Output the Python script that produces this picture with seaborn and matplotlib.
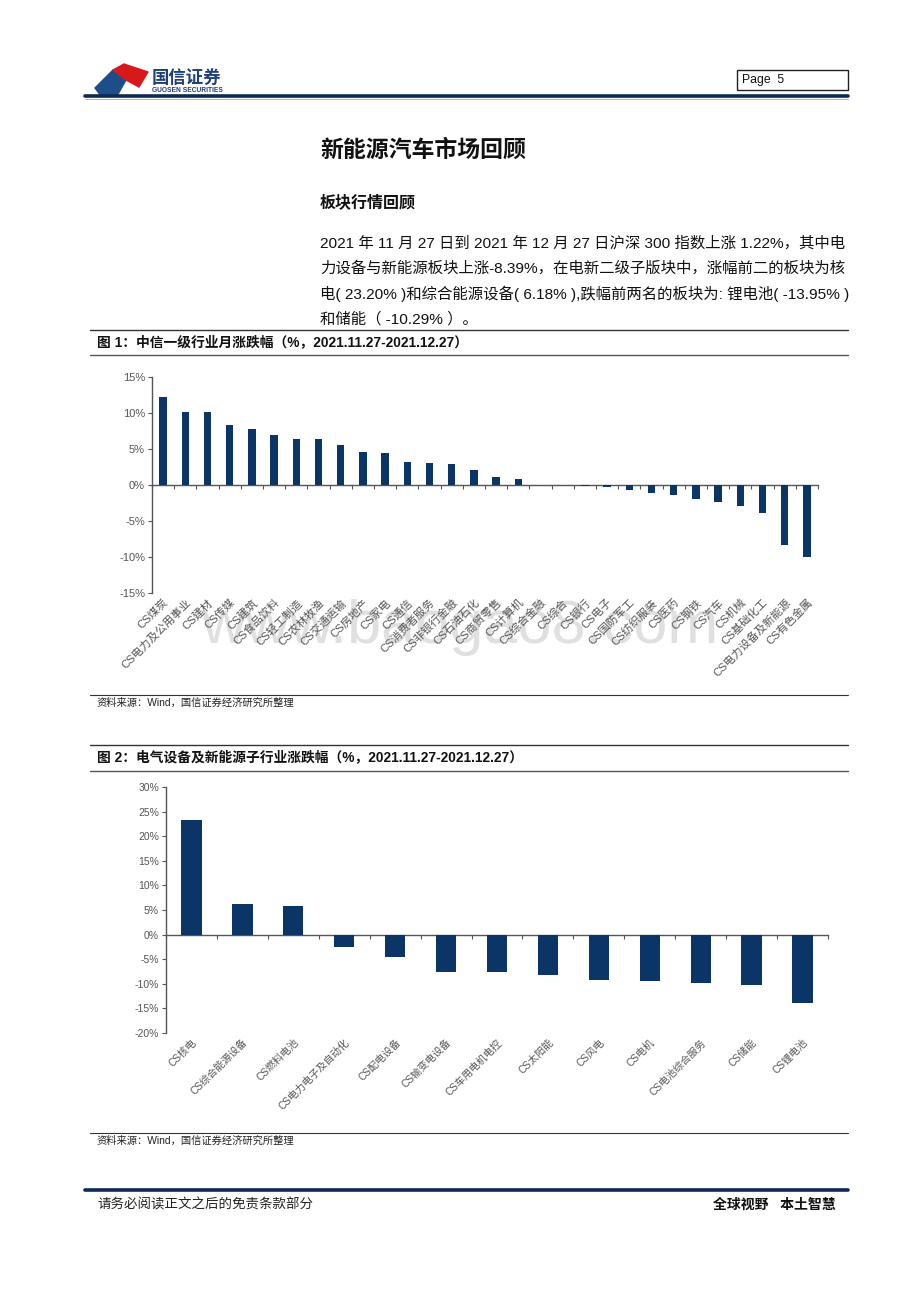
import numpy as np
import pandas as pd
import matplotlib
matplotlib.use('Agg')
import matplotlib.pyplot as plt
import seaborn as sns
from matplotlib.patches import Rectangle, Polygon
from matplotlib.lines import Line2D

sns.set_theme(style='white')
plt.rcParams['font.family'] = ['Liberation Sans', 'Noto Sans CJK SC', 'DejaVu Sans']

W, H = 920, 1302
NAVY = '#0b3566'
AX = '#555555'
TXT = '#555555'

# chart 1: CITIC level-1 industries, monthly change (%)
ind1 = ['CS煤炭', 'CS电力及公用事业', 'CS建材', 'CS传媒', 'CS建筑', 'CS食品饮料',
        'CS轻工制造', 'CS农林牧渔', 'CS交通运输', 'CS房地产', 'CS家电', 'CS通信',
        'CS消费者服务', 'CS非银行金融', 'CS石油石化', 'CS商贸零售', 'CS计算机',
        'CS综合金融', 'CS综合', 'CS银行', 'CS电子', 'CS国防军工', 'CS纺织服装',
        'CS医药', 'CS钢铁', 'CS汽车', 'CS机械', 'CS基础化工', 'CS电力设备及新能源',
        'CS有色金属']
chg1 = [12.2, 10.15, 10.1, 8.35, 7.75, 6.9, 6.35, 6.35, 5.6, 4.6, 4.4, 3.15,
        3.0, 2.9, 2.05, 1.15, 0.9, 0.02, 0.01, -0.08, -0.3, -0.7, -1.05,
        -1.4, -1.95, -2.3, -2.9, -3.95, -8.39, -9.95]

# chart 2: power equipment & new energy sub-industries (%)
ind2 = ['CS核电', 'CS综合能源设备', 'CS燃料电池', 'CS电力电子及自动化', 'CS配电设备',
        'CS输变电设备', 'CS车用电机电控', 'CS太阳能', 'CS风电', 'CS电机',
        'CS电池综合服务', 'CS储能', 'CS锂电池']
chg2 = [23.20, 6.18, 5.82, -2.44, -4.6, -7.65, -7.7, -8.26, -9.14, -9.34,
        -9.82, -10.29, -13.95]


def fx(p):
    return p / W


def fy(p):
    return 1 - p / H


fig = plt.figure(figsize=(W / 100, H / 100), dpi=100)


def hline(x0, x1, y, lw=1.0, color='#333333'):
    fig.add_artist(Line2D([fx(x0), fx(x1)], [fy(y), fy(y)], transform=fig.transFigure,
                          lw=lw, color=color))


def draw_bars(px, labels, values, ylim, step, width, lab_size, ytick_size):
    x0, y0, x1, y1 = px
    ax = fig.add_axes([fx(x0), fy(y1), fx(x1) - fx(x0), fy(y0) - fy(y1)])
    df = pd.DataFrame({'ind': labels, 'chg': values})
    sns.barplot(data=df, x='ind', y='chg', color=NAVY, width=width, saturation=1,
                edgecolor='none', ax=ax)
    n = len(labels)
    ax.set_xlim(-0.5, n - 0.5)
    ax.set_ylim(*ylim)
    ax.set_yticks(np.arange(ylim[0], ylim[1] + 0.1, step))
    ax.yaxis.set_major_formatter(lambda v, p: f'{v:.0f}%')
    for s in ['top', 'right', 'bottom']:
        ax.spines[s].set_visible(False)
    ax.spines['left'].set_color(AX)
    ax.spines['left'].set_linewidth(1.0)
    ax.tick_params(axis='y', direction='out', length=3, width=0.8, color=AX,
                   labelsize=ytick_size, labelcolor=TXT, pad=2, left=True)
    ax.tick_params(axis='x', length=0, pad=3)
    ax.set_xticks(range(n))
    ax.set_xticklabels(labels, rotation=45, ha='right', rotation_mode='anchor',
                       fontsize=lab_size, color=TXT)
    ax.set_xlabel('')
    ax.set_ylabel('')
    ax.patch.set_alpha(0)
    zero = (0 - ylim[0]) / (ylim[1] - ylim[0])
    sec = ax.secondary_xaxis(zero)
    sec.set_alignment('bottom')
    sec.set_xticks(np.arange(-0.5, n, 1))
    sec.set_xticklabels([])
    sec.tick_params(direction='out', length=3, width=0.8, color=AX)
    sec.spines['bottom'].set_color(AX)
    sec.spines['bottom'].set_linewidth(1.0)
    return ax


# ---- header ----
fig.add_artist(Polygon([[fx(95), fy(88)], [fx(113), fy(70)], [fx(126), fy(80)],
                        [fx(117), fy(96)], [fx(101), fy(96)]], closed=True,
                       transform=fig.transFigure, color='#1d4e89'))
fig.add_artist(Polygon([[fx(113), fy(70)], [fx(124), fy(64)], [fx(148), fy(72)],
                        [fx(139), fy(87)], [fx(126), fy(80)]], closed=True,
                       transform=fig.transFigure, color='#d7191c'))
fig.text(fx(152), fy(77), '国信证券', fontsize=12.5, fontweight='bold', color='#1d3f7a',
         va='center', ha='left')
fig.text(fx(152), fy(91), 'GUOSEN SECURITIES', fontsize=4.8, fontweight='bold',
         color='#1d3f7a', va='center', ha='left')
fig.add_artist(Rectangle((fx(737), fy(90)), fx(848) - fx(737), fy(70) - fy(90),
                         transform=fig.transFigure, fill=False, lw=1.0, ec='#222222'))
fig.text(fx(742), fy(80.5), 'Page  5', fontsize=8.8, va='center', ha='left', color='#111111')
hline(85, 848, 95.5, lw=2.6, color='#0e2a52')
hline(85, 848, 98.5, lw=0.6, color='#9aa7b8')

# ---- text section ----
fig.text(fx(320), fy(150), '新能源汽车市场回顾', fontsize=16.5, fontweight='bold',
         va='center', ha='left', color='#111111')
fig.text(fx(320), fy(202), '板块行情回顾', fontsize=11.5, fontweight='bold',
         va='center', ha='left', color='#111111')
para = [
    '2021 年 11 月 27 日到 2021 年 12 月 27 日沪深 300 指数上涨 1.22%，其中电',
    '力设备与新能源板块上涨-8.39%，在电新二级子版块中，涨幅前二的板块为核',
    '电( 23.20% )和综合能源设备( 6.18% ),跌幅前两名的板块为: 锂电池( -13.95% )',
    '和储能（ -10.29% ）。',
]
for i, line in enumerate(para):
    fig.text(fx(320), fy(243 + i * 25.3), line, fontsize=11.1, va='center', ha='left',
             color='#111111')

# ---- figure 1 ----
hline(90, 848, 330, lw=1.0, color='#333333')
fig.text(fx(97), fy(342), '图 1：中信一级行业月涨跌幅（%，2021.11.27-2021.12.27）',
         fontsize=9.9, fontweight='bold', va='center', ha='left', color='#111111')
hline(90, 848, 355, lw=1.0, color='#555555')
fig.text(fx(460), fy(628), 'www.baogao8.com', fontsize=44, color='#e0e0e0',
         va='center', ha='center', zorder=-1, family='Liberation Sans')
draw_bars((152, 377, 818, 593), ind1, chg1, (-15, 15), 5, 0.33, 8, 8)
hline(90, 848, 695, lw=0.8, color='#333333')
fig.text(fx(97), fy(703), '资料来源：Wind，国信证券经济研究所整理', fontsize=7.4,
         va='center', ha='left', color='#222222')

# ---- figure 2 ----
hline(90, 848, 745, lw=1.0, color='#333333')
fig.text(fx(97), fy(757), '图 2：电气设备及新能源子行业涨跌幅（%，2021.11.27-2021.12.27）',
         fontsize=9.9, fontweight='bold', va='center', ha='left', color='#111111')
hline(90, 848, 771, lw=1.0, color='#555555')
draw_bars((166, 787, 828, 1033), ind2, chg2, (-20, 30), 5, 0.4, 7.3, 7.5)
hline(90, 848, 1133, lw=0.8, color='#333333')
fig.text(fx(97), fy(1141), '资料来源：Wind，国信证券经济研究所整理', fontsize=7.4,
         va='center', ha='left', color='#222222')

# ---- footer ----
hline(85, 848, 1190, lw=2.6, color='#0e2a52')
fig.text(fx(97), fy(1205), '请务必阅读正文之后的免责条款部分', fontsize=9.7,
         va='center', ha='left', color='#222222')
fig.text(fx(836), fy(1205), '全球视野   本土智慧', fontsize=10, fontweight='bold',
         style='italic', va='center', ha='right', color='#111111')

fig.savefig('out.png', dpi=100, facecolor='white')
